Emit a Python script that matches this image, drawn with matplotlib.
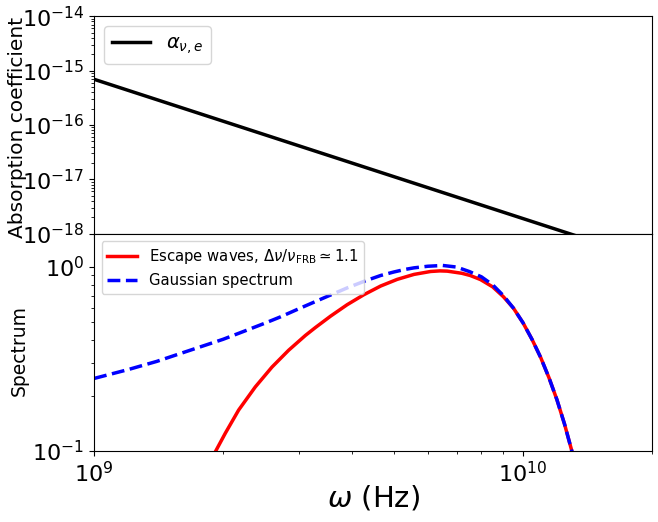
import matplotlib
matplotlib.use('Agg')
import matplotlib.pyplot as plt

# absorption coefficient (power law, read at the ends of the line)
freq_abs = [1e9, 2e10]
alpha_ve = [6.9e-16, 3.2e-19]

# Gaussian spectrum (blue dashed), frequency in GHz
freq_gauss = [1.0, 1.2, 1.4, 1.675, 2.0, 2.25, 2.5, 2.72, 3.0, 3.25, 3.5, 3.9,
              4.3, 4.66, 5.0, 5.3, 5.57, 6.0, 6.5, 7.0, 7.5, 8.0, 8.5, 9.0, 9.5,
              10.0, 10.5, 11.0, 11.5, 12.0, 12.5, 13.0, 13.3]
gauss = [0.248, 0.277, 0.307, 0.353, 0.405, 0.45, 0.495, 0.536, 0.593, 0.643, 0.693, 0.772,
         0.843, 0.90, 0.94, 0.97, 0.99, 1.01, 1.02, 1.0, 0.945, 0.885, 0.80, 0.70, 0.598,
         0.498, 0.404, 0.322, 0.25, 0.19, 0.14, 0.10, 0.08]

# escape waves (red), frequency in GHz
freq_esc = [1.85, 1.917, 2.023, 2.173, 2.376, 2.599, 2.842, 3.11, 3.281, 3.56, 3.89,
            4.25, 4.66, 5.09, 5.57, 6.09, 6.4, 6.66, 7.2, 7.53, 7.96, 8.5, 9.0, 9.5,
            10.0, 10.5, 11.0, 11.5, 12.0, 12.5, 13.0, 13.3]
escape = [0.0845, 0.099, 0.125, 0.167, 0.223, 0.286, 0.353, 0.425, 0.469, 0.541, 0.624,
          0.706, 0.789, 0.857, 0.912, 0.946, 0.953, 0.950, 0.925, 0.90, 0.855, 0.78, 0.69, 0.598,
          0.498, 0.404, 0.322, 0.25, 0.19, 0.14, 0.10, 0.08]


def draw():
    fig, (ax1, ax2) = plt.subplots(2, 1, sharex=True, figsize=(6.58, 5.22), dpi=100)
    plt.subplots_adjust(left=0.143, right=0.991, top=0.969, bottom=0.136, hspace=0)

    ax1.plot(freq_abs, alpha_ve, color='black', lw=2.5, label=r'$\alpha_{\nu,e}$')
    ax1.set_xscale('log')
    ax1.set_yscale('log')
    ax1.set_ylim(1e-18, 1e-14)
    ax1.set_ylabel('Absorption coefficient', fontsize=14.5)
    ax1.yaxis.set_label_coords(-0.120, 0.49)
    ax1.tick_params(labelsize=16)
    ax1.legend(loc='upper left', fontsize=14)

    ax2.plot([f * 1e9 for f in freq_esc], escape, color='red', lw=2.5,
             label=r'Escape waves, $\Delta\nu/\nu_{\rm FRB}\simeq 1.1$')
    ax2.plot([f * 1e9 for f in freq_gauss], gauss, color='blue', lw=2.5, ls='--',
             label='Gaussian spectrum')
    ax2.set_xscale('log')
    ax2.set_yscale('log')
    ax2.set_xlim(1e9, 2e10)
    ax2.set_ylim(0.1, 1.52)
    ax2.set_ylabel('Spectrum', fontsize=13.5)
    ax2.yaxis.set_label_coords(-0.118, 0.46)
    ax2.set_xlabel(r'$\omega$ (Hz)', fontsize=21)
    ax2.xaxis.set_label_coords(0.5, -0.15)
    ax2.tick_params(labelsize=16)
    ax2.legend(loc='upper left', fontsize=10.7)

    fig.savefig('out.png', dpi=100)


if __name__ == '__main__':
    draw()
